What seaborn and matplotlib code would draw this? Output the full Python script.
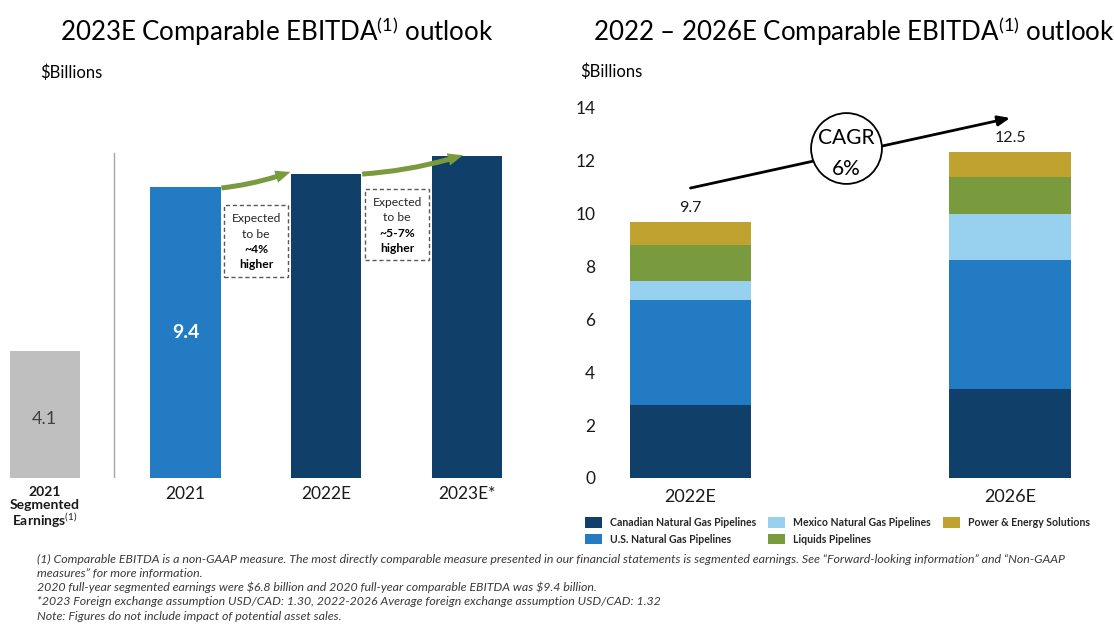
import numpy as np
import pandas as pd
import seaborn as sns
import matplotlib.pyplot as plt
from matplotlib.patches import Patch, Rectangle

# ---------------- data ----------------
# left panel: 2023E comparable EBITDA outlook
left_cats = ["seg2021", "2021", "2022E", "2023E*"]
left_labels = ["2021\nSegmented\nEarnings$^{(1)}$", "2021", "2022E", "2023E*"]
left_vals = [4.1, 9.4, 9.8, 10.4]
left_shown = ["4.1", "9.4"]
growth_notes = [("~4%", "higher"), ("~5-7%", "higher")]

# right panel: 2022 - 2026E by business segment
years = ["2022E", "2026E"]
segments = ["Canadian Natural Gas Pipelines", "U.S. Natural Gas Pipelines",
            "Mexico Natural Gas Pipelines", "Liquids Pipelines",
            "Power & Energy Solutions"]
canadian = [2.77, 3.37]
us_gas = [3.97, 4.88]
mexico = [0.73, 1.74]
liquids = [1.36, 1.39]
power = [0.87, 0.97]
total_labels = ["9.7", "12.5"]
cagr = "6%"

footnotes = [
    "(1) Comparable EBITDA is a non-GAAP measure. The most directly comparable measure presented in our financial statements is segmented earnings. See \u201cForward-looking information\u201d and \u201cNon-GAAP",
    "measures\u201d for more information.",
    "2020 full-year segmented earnings were \\$6.8 billion and 2020 full-year comparable EBITDA was \\$9.4 billion.",
    "*2023 Foreign exchange assumption USD/CAD: 1.30, 2022-2026 Average foreign exchange assumption USD/CAD: 1.32",
    "Note: Figures do not include impact of potential asset sales.",
]

# ---------------- style ----------------
navy = "#10406A"
blue = "#237BC3"
light = "#98D0F0"
green = "#7A9A3E"
gold = "#BFA22F"
gray = "#BFBFBF"
seg_colors = [navy, blue, light, green, gold]

sns.set_theme(style="white")
plt.rcParams['font.family'] = ['Lato', 'DejaVu Sans']
plt.rcParams['mathtext.fontset'] = 'custom'
plt.rcParams['mathtext.rm'] = 'Lato'
plt.rcParams['mathtext.it'] = 'Lato:italic'
plt.rcParams['mathtext.bf'] = 'Lato:bold'

W, H = 1114, 626
fig = plt.figure(figsize=(W / 100, H / 100), dpi=100)
fx = lambda px: px / W
fy = lambda py: 1 - py / H

# ---------------- left panel ----------------
axL = fig.add_axes([0, fy(477.7), fx(520), fy(140) - fy(477.7)])
dfl = pd.DataFrame({"cat": left_cats, "val": left_vals})
sns.barplot(data=dfl, x="cat", y="val", hue="cat", palette=[gray, blue, navy, navy],
            width=0.5, saturation=1, legend=False, linewidth=0, ax=axL)
axL.set_xlim(-0.3175, 3.376)
axL.set_ylim(0, 10.91)
sns.despine(ax=axL, left=True, bottom=True)
axL.set_yticks([])
axL.set_xlabel("")
axL.set_ylabel("")
axL.set_xticks(range(len(left_cats)))
axL.set_xticklabels(left_labels)
axL.tick_params(axis="x", length=0, pad=6)
for i, t in enumerate(axL.get_xticklabels()):
    if i == 0:
        t.set_fontsize(10)
        t.set_fontweight("bold")
        t.set_linespacing(1.05)
    else:
        t.set_fontsize(12.5)
    t.set_color("#1a1a1a")

axL.text(0, left_vals[0] * 0.46, left_shown[0], ha="center", va="center",
         fontsize=13, color="#404040")
axL.text(1, left_vals[1] * 0.5, left_shown[1], ha="center", va="center",
         fontsize=14, color="white", fontweight="bold")

# separator line between segmented earnings and EBITDA bars
axL.plot([0.492, 0.492], [0, 10.49], color="#A6A6A6", lw=1)

# green growth arrows
for (x0, y0, x1, y1) in [(1.255, 9.36, 1.745, 9.88), (2.255, 9.81, 2.97, 10.42)]:
    axL.annotate("", xy=(x1, y1), xytext=(x0, y0),
                 arrowprops=dict(arrowstyle="simple,head_length=0.9,head_width=0.75,tail_width=0.3",
                                 connectionstyle="arc3,rad=0.06", color=green, lw=0,
                                 shrinkA=0, shrinkB=0))

# dashed note boxes
boxes = [(1.273, 6.48, 1.730, 8.81), (2.275, 7.02, 2.732, 9.32)]
for (x0, y0, x1, y1), (pct, word) in zip(boxes, growth_notes):
    axL.add_patch(Rectangle((x0, y0), x1 - x0, y1 - y0, fill=False,
                            ec="#595959", lw=1, ls=(0, (3, 2))))
    xc = (x0 + x1) / 2
    step = (y1 - y0) / 4.7
    ytop = y1 - step * 0.9
    axL.text(xc, ytop, "Expected", ha="center", va="center", fontsize=8.7, color="#262626")
    axL.text(xc, ytop - step, "to be", ha="center", va="center", fontsize=8.7, color="#262626")
    axL.text(xc, ytop - 2 * step, pct, ha="center", va="center", fontsize=8.7,
             color="black", fontweight="bold")
    axL.text(xc, ytop - 3 * step, word, ha="center", va="center", fontsize=8.7,
             color="black", fontweight="bold")

# ---------------- right panel ----------------
axR = fig.add_axes([fx(605), fy(478), fx(1105) - fx(605), fy(100) - fy(478)])
layers = np.array([canadian, us_gas, mexico, liquids, power])
cum = np.cumsum(layers, axis=0)
for i in range(len(segments) - 1, -1, -1):
    sns.barplot(x=years, y=cum[i], color=seg_colors[i], width=0.38, saturation=1,
                linewidth=0, ax=axR)
axR.set_xlim(-0.2676, 1.297)
axR.set_ylim(0, 14.3)
axR.set_yticks(range(0, 15, 2))
sns.despine(ax=axR, left=True, bottom=True)
axR.tick_params(axis="y", length=0, pad=7, labelsize=12.5, labelcolor="#1a1a1a")
axR.tick_params(axis="x", length=0, pad=8, labelsize=13, labelcolor="#1a1a1a")
axR.set_xlabel("")
axR.set_ylabel("")

for i, lbl in enumerate(total_labels):
    axR.text(i, cum[-1][i] + 0.25, lbl, ha="center", va="bottom", fontsize=11.5, color="#1a1a1a")

# CAGR arrow and circle
axR.annotate("", xy=(1.0, 13.62), xytext=(0.0, 10.97),
             arrowprops=dict(arrowstyle="-|>,head_length=0.6,head_width=0.25",
                             color="black", lw=2, shrinkA=0, shrinkB=0), zorder=3)
axR.scatter([0.487], [12.47], s=51 ** 2, facecolor="white", edgecolor="black",
            linewidth=1.3, zorder=4, clip_on=False)
axR.text(0.487, 12.88, "CAGR", ha="center", va="center", fontsize=15, color="black", zorder=5)
axR.text(0.487, 11.70, cagr, ha="center", va="center", fontsize=15, color="black", zorder=5)

# legend
handles = [Patch(facecolor=c, edgecolor="none") for c in seg_colors]
fig.legend(handles, segments, loc="upper left", bbox_to_anchor=(fx(585), fy(517)),
           ncol=3, frameon=False, prop=dict(size=7.6, weight="bold"),
           handlelength=1.6, handleheight=1.15, handletextpad=0.75,
           columnspacing=1.15, labelspacing=0.55, borderpad=0, borderaxespad=0)

# ---------------- titles and notes ----------------
fig.text(fx(277), fy(41), "2023E Comparable EBITDA$^{(1)}$ outlook", ha="center",
         va="baseline", fontsize=18.6, color="black")
fig.text(fx(854), fy(41), "2022 \u2013 2026E Comparable EBITDA$^{(1)}$ outlook", ha="center",
         va="baseline", fontsize=18.6, color="black")
fig.text(fx(40), fy(73), "\\$Billions", ha="left", va="center", fontsize=12, color="black")
fig.text(fx(580), fy(72), "\\$Billions", ha="left", va="center", fontsize=12, color="black")

for k, line in enumerate(footnotes):
    fig.text(fx(37), fy(559 + 14.3 * k), line, ha="left", va="center", fontsize=8.9,
             style="italic", color="#3a3a3a")

fig.savefig("out.png", dpi=100)
